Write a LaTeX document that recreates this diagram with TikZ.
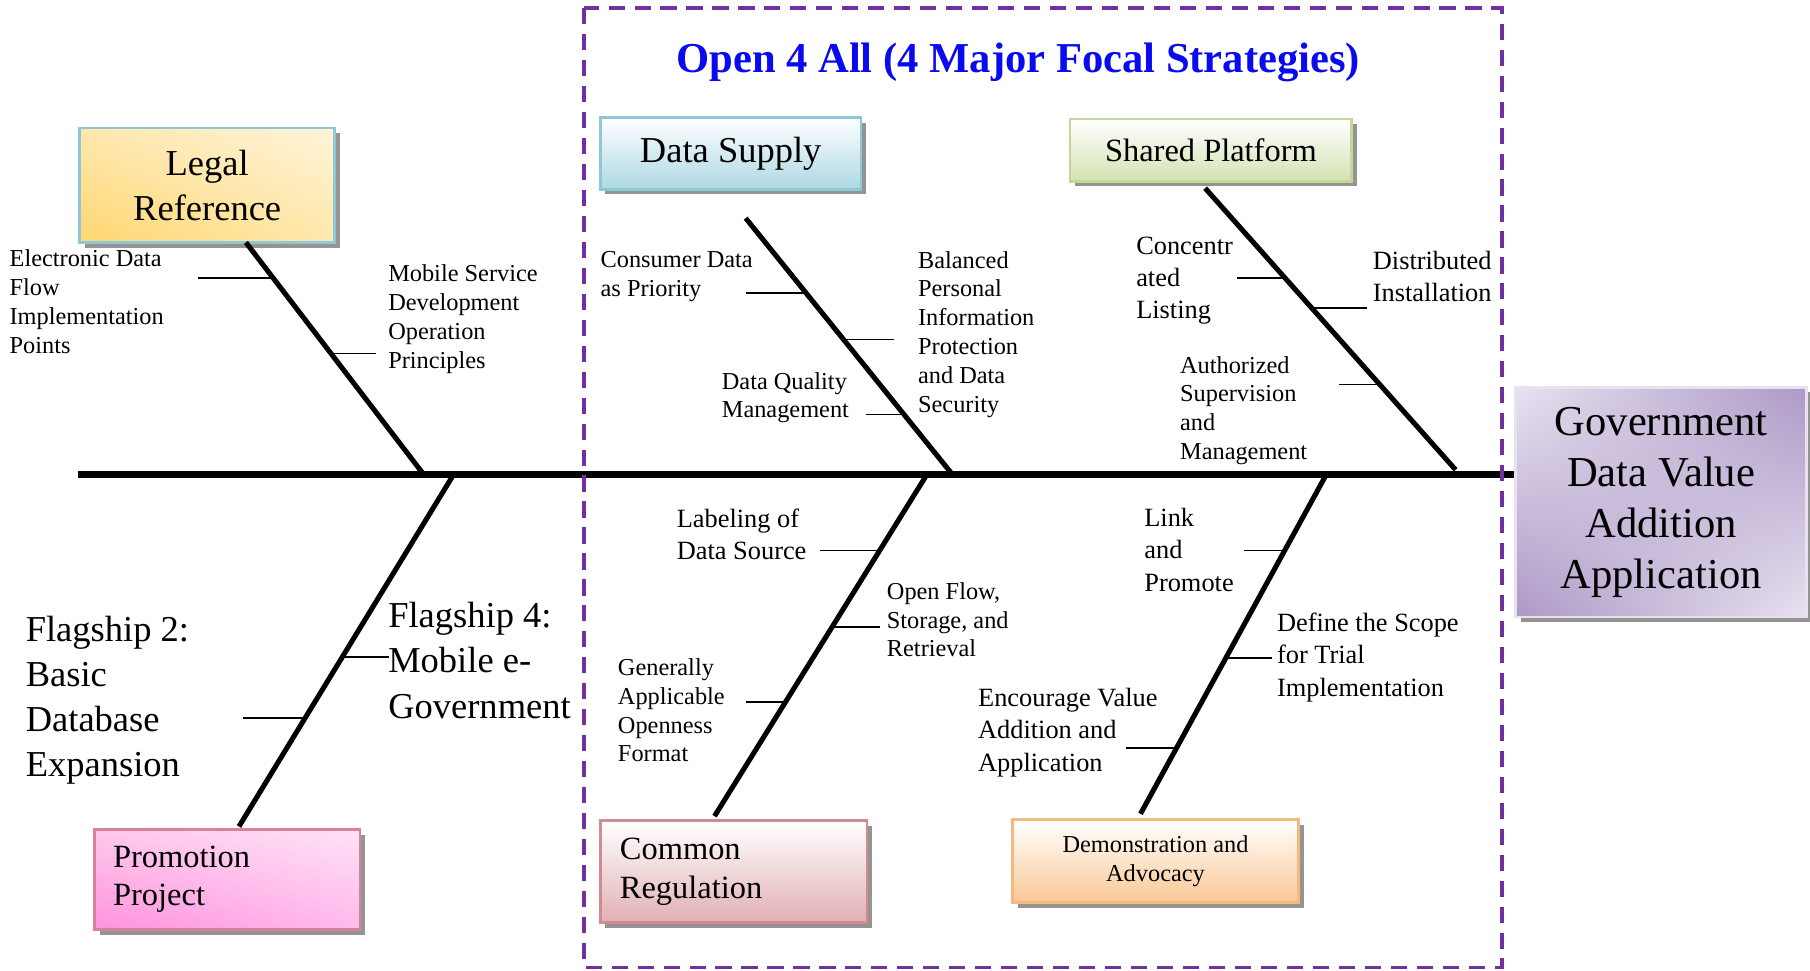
\documentclass[tikz,border=0pt]{standalone}
\usepackage{fontspec}
\setmainfont{Liberation Serif}
\usetikzlibrary{shadows,shadings}

\definecolor{framepurple}{RGB}{112,48,160}
\definecolor{titleblue}{RGB}{10,10,240}
\definecolor{legaldraw}{RGB}{140,200,215}
\definecolor{supplyfill}{RGB}{172,216,228}
\definecolor{shareddraw}{RGB}{195,215,150}
\definecolor{sharedfill}{RGB}{212,226,178}
\definecolor{govdark}{RGB}{172,152,198}
\definecolor{govlight}{RGB}{232,226,240}
\definecolor{promodraw}{RGB}{215,130,150}
\definecolor{commondraw}{RGB}{210,140,145}
\definecolor{commonfill}{RGB}{226,176,180}
\definecolor{demodraw}{RGB}{245,185,125}
\definecolor{demofill}{RGB}{250,200,150}

\begin{document}
\begin{tikzpicture}[x=0.02cm,y=-0.02cm,
    spine/.style={line width=3.7pt},
    bone/.style={line width=2.5pt},
    twig/.style={line width=0.8pt},
    box/.style={line width=1.3pt,align=center,inner sep=0pt,
        drop shadow={shadow xshift=0.09cm,shadow yshift=-0.09cm,fill=black!42,opacity=1}},
    small/.style={anchor=base west,align=left,inner sep=0pt,font=\fontsize{12}{14.2}\selectfont},
    mid/.style={small,font=\fontsize{13}{15.9}\selectfont},
    big/.style={small,font=\fontsize{18}{22.2}\selectfont}]
    \useasboundingbox (0,0) rectangle (1568,841);

    \node[font=\fontsize{21}{25}\selectfont\bfseries,text=titleblue] (title) at (882,54) {Open 4 All (4 Major Focal Strategies)};

    \node[box,draw=legaldraw,upper left={rgb,255:red,255;green,232;blue,175},upper right={rgb,255:red,255;green,244;blue,218},
        lower left={rgb,255:red,255;green,214;blue,112},lower right={rgb,255:red,255;green,232;blue,172},
        minimum width=4.42cm,minimum height=1.98cm,font=\fontsize{18}{22.2}\selectfont] (legal) at (179.5,160.5) {Legal\\Reference};
    \node[box,draw=legaldraw,top color=white,bottom color=supplyfill,
        minimum width=4.52cm,minimum height=1.24cm,font=\fontsize{18}{22}\selectfont] (supply) at (633,133) {Data Supply};
    \node[box,draw=shareddraw,top color=white,bottom color=sharedfill,
        minimum width=4.88cm,minimum height=1.08cm,font=\fontsize{16}{19}\selectfont] (shared) at (1049,130) {Shared Platform};
    \node[box,draw=govlight,upper left=govlight,upper right=govdark,lower left=govdark,lower right=govlight,
        minimum width=5.04cm,minimum height=3.98cm,font=\fontsize{21}{25.1}\selectfont] (gov) at (1439,435) {Government\\Data Value\\Addition\\Application};
    \node[box,draw=promodraw,upper left={rgb,255:red,255;green,200;blue,236},upper right={rgb,255:red,255;green,226;blue,246},
        lower left={rgb,255:red,255;green,146;blue,222},lower right={rgb,255:red,255;green,186;blue,236},
        minimum width=4.6cm,minimum height=1.74cm,text width=3.96cm,align=left,font=\fontsize{16}{18.8}\selectfont] (promo) at (197,762) {Promotion\\Project};
    \node[box,draw=commondraw,top color=white,bottom color=commonfill,
        minimum width=4.62cm,minimum height=1.76cm,text width=3.94cm,align=left,font=\fontsize{16}{19.3}\selectfont] (common) at (635.5,755) {Common\\Regulation};
    \node[box,draw=demodraw,top color=white,bottom color=demofill,
        minimum width=4.96cm,minimum height=1.44cm,font=\fontsize{12}{14.2}\selectfont] (demo) at (1001,746) {Demonstration and\\Advocacy};

    \coordinate (s0) at (68,411);
    \draw[spine] (s0) -- (s0 -| gov.west);

    \coordinate (l0) at (213,210);
    \coordinate (l1) at (367,411);
    \draw[bone] (l0) -- (l1) coordinate[pos=.154] (la) coordinate[pos=.478] (lb);
    \draw[twig] (la) -- +(-65,0);
    \draw[twig] (lb) -- +(39,0);
    \node[small] (edf) at (8,306) {Electronic Data\\Flow\\Implementation\\Points};
    \node[small] (msd) at (336,319) {Mobile Service\\Development\\Operation\\Principles};

    \coordinate (p0) at (207,716);
    \coordinate (p1) at (393,411);
    \draw[bone] (p0) -- (p1) coordinate[pos=.308] (pa) coordinate[pos=.482] (pb);
    \draw[twig] (pa) -- +(-54,0);
    \draw[twig] (pb) -- +(40,0);
    \node[big] (flag2) at (22,673) {Flagship 2:\\Basic\\Database\\Expansion};
    \node[big] (flag4) at (336,622) {Flagship 4:\\Mobile e-\\Government};

    \coordinate (d0) at (646,189);
    \coordinate (d1) at (825,411);
    \draw[bone] (d0) -- (d1) coordinate[pos=.293] (da) coordinate[pos=.473] (db) coordinate[pos=.766] (dc);
    \draw[twig] (da) -- +(-52,0);
    \draw[twig] (db) -- +(44,0);
    \draw[twig] (dc) -- +(-33,0);
    \node[small] (cdp) at (520,257) {Consumer Data\\as Priority};
    \node[small] (bpi) at (795,357) {Balanced\\Personal\\Information\\Protection\\and Data\\Security};
    \node[small] (dqm) at (625,362) {Data Quality\\Management};

    \coordinate (h0) at (1044,163);
    \coordinate (h1) at (1261,407);
    \draw[bone] (h0) -- (h1) coordinate[pos=.320] (ha) coordinate[pos=.426] (hb) coordinate[pos=.697] (hc);
    \draw[twig] (ha) -- +(-42,0);
    \draw[twig] (hb) -- +(48,0);
    \draw[twig] (hc) -- +(-35,0);
    \node[mid] (cal) at (984,276) {Concentr\\ated\\Listing};
    \node[mid] (din) at (1189,261) {Distributed\\Installation};
    \node[small] (asm) at (1022,398) {Authorized\\Supervision\\and\\Management};

    \coordinate (c0) at (803,411);
    \coordinate (c1) at (619,707);
    \draw[bone] (c0) -- (c1) coordinate[pos=.223] (ca) coordinate[pos=.446] (cb) coordinate[pos=.666] (cc);
    \draw[twig] (ca) -- +(-52,0);
    \draw[twig] (cb) -- +(41,0);
    \draw[twig] (cc) -- +(-34,0);
    \node[mid] (lds) at (586,485) {Labeling of\\Data Source};
    \node[small] (ofs) at (768,569) {Open Flow,\\Storage, and\\Retrieval};
    \node[small] (gao) at (535,660) {Generally\\Applicable\\Openness\\Format};

    \coordinate (v0) at (1149,411);
    \coordinate (v1) at (988,705);
    \draw[bone] (v0) -- (v1) coordinate[pos=.224] (va) coordinate[pos=.541] (vb) coordinate[pos=.806] (vc);
    \draw[twig] (va) -- +(-35,0);
    \draw[twig] (vb) -- +(40,0);
    \draw[twig] (vc) -- +(-44,0);
    \node[mid] (lap) at (991,512) {Link\\and\\Promote};
    \node[mid] (dst) at (1106,603) {Define the Scope\\for Trial\\Implementation};
    \node[mid] (eva) at (847,668) {Encourage Value\\Addition and\\Application};

    \draw[framepurple,line width=1.7pt,dash pattern=on 0.28cm off 0.17cm] (506,7) rectangle (1301,838);
\end{tikzpicture}
\end{document}
